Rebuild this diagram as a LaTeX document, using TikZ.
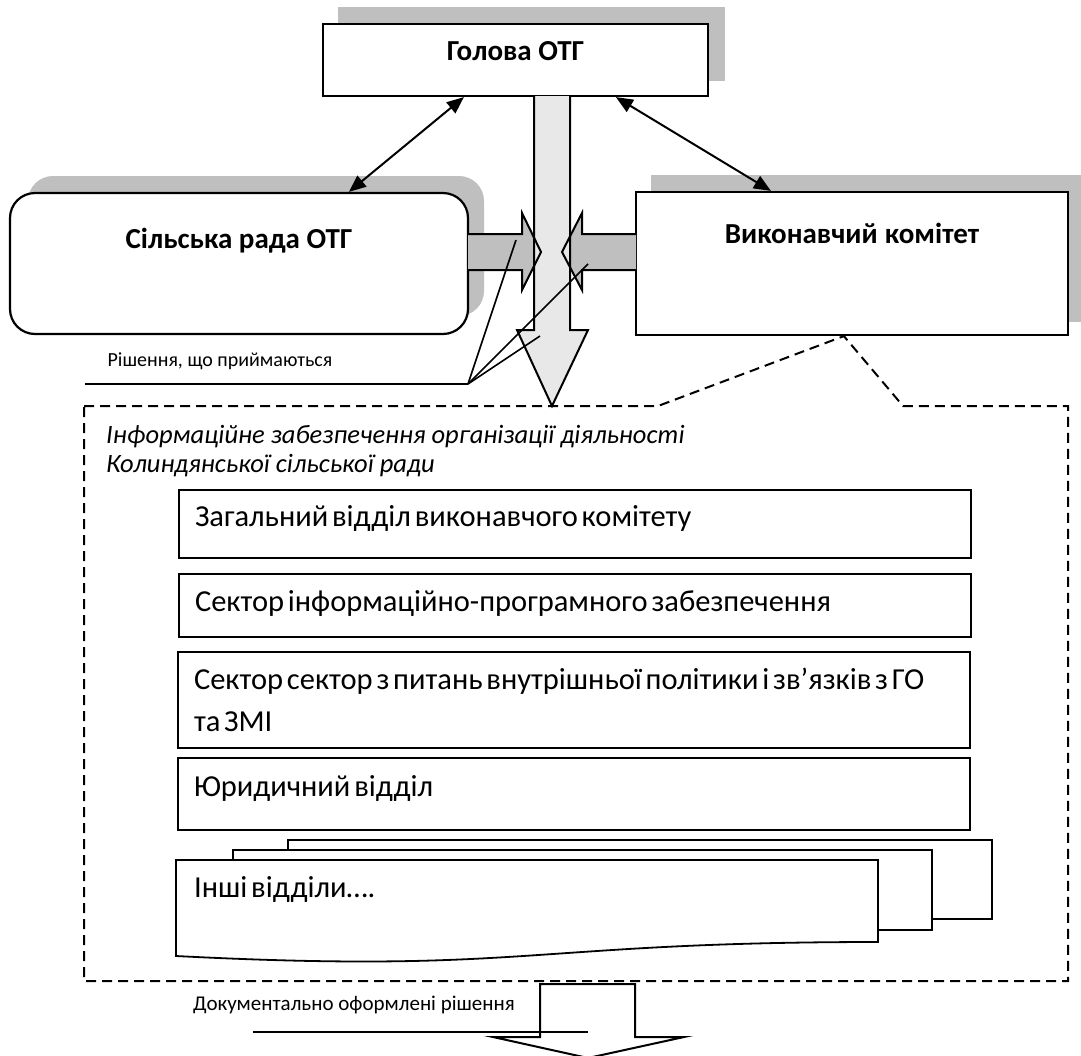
\documentclass[tikz,border=0pt]{standalone}
\usepackage{fontspec}
\setmainfont{Carlito}
\newfontfamily\unitfont{Carlito}[WordSpace=0.55]
\usetikzlibrary{arrows.meta,calc,positioning}

\definecolor{shadowgray}{HTML}{BFBFBF}
\definecolor{flowgray}{HTML}{E8E8E8}

\begin{document}
\begin{tikzpicture}[x=1pt, y=-1pt,
    boxshadow/.style={fill=shadowgray, draw=none},
    mainbox/.style={draw, line width=2.2pt, fill=white, inner sep=0pt},
    headtext/.style={font=\bfseries\fontsize{29}{33}\selectfont, inner sep=0pt},
    unitbox/.style={draw, line width=2.2pt, fill=white, text width=760pt, inner xsep=16pt, inner ysep=0pt, align=flush left, font=\unitfont\fontsize{30.5}{42}\selectfont},
    oneline/.style={text height=22pt, text depth=18pt},
    docpage/.style={draw, line width=1.8pt, fill=white},
    linkarrow/.style={line width=2pt, {Triangle[length=17pt,width=14pt]}-{Triangle[length=17pt,width=14pt]}},
    flowarrow/.style={line width=2pt, line join=miter},
    callout/.style={line width=1.6pt},
    notetext/.style={font=\fontsize{20}{24}\selectfont, inner sep=0pt},
    infotext/.style={font=\itshape\fontsize{26.5}{29}\selectfont, align=left, inner sep=0pt}
]
    \useasboundingbox (0,0) rectangle (1081,1055);

    % Shadows
    \fill[boxshadow] (338,7) rectangle (725,81);
    \fill[boxshadow, rounded corners=25pt] (28,176) rectangle (484,316);
    \fill[boxshadow] (651,175) rectangle (1095,322);

    % Top level boxes
    \node[mainbox, minimum width=385pt, minimum height=72pt] (head) at (515.5,60) {};
    \node[mainbox, rounded corners=25pt, minimum width=458pt, minimum height=141pt] (council) at (239,263.5) {};
    \node[mainbox, minimum width=432pt, minimum height=143pt] (exec) at (852,263.5) {};

    \node[headtext, below=18pt of head.north] (headlbl) {Голова ОТГ};
    \node[headtext, below=36pt of council.north] (councillbl) {Сільська рада ОТГ};
    \node[headtext, below=32pt of exec.north] (execlbl) {Виконавчий\hspace{0.25em}комітет};

    % Links to the head
    \draw[linkarrow] ([xshift=340pt]council.north west) -- ([xshift=142pt]head.south west);
    \draw[linkarrow] ([xshift=136pt]exec.north west) -- ([xshift=294pt]head.south west);

    % Decisions flow (fill first, outlines after)
    \fill[shadowgray] (468,234) -- (522,234) -- (522,213) -- (541,252) -- (522,290) -- (522,270) -- (468,270) -- cycle;
    \fill[shadowgray] (636,234) -- (582,234) -- (582,213) -- (562,252) -- (582,290) -- (582,270) -- (636,270) -- cycle;
    \fill[flowgray] (534,96) -- (534,330) -- (517,330) -- (552,406) -- (588,330) -- (570,330) -- (570,96) -- cycle;
    \draw[flowarrow] (468,234) -- (522,234) -- (522,213) -- (541,252) -- (522,290) -- (522,270) -- (468,270);
    \draw[flowarrow] (636,234) -- (582,234) -- (582,213) -- (562,252) -- (582,290) -- (582,270) -- (636,270);
    \draw[flowarrow] (534,96) -- (534,330) -- (517,330) -- (552,406) -- (588,330) -- (570,330) -- (570,96);

    % Callout region
    \draw[line width=2pt, dash pattern=on 10pt off 6pt] (84,406) -- (658,406) -- ([xshift=209pt]exec.south west) -- (903,406) -- (1068,406) -- (1068,981) -- (84,981) -- cycle;

    \node[infotext, anchor=north west] (infolbl) at (106,425)
        {Інформаційне забезпечення організації діяльності\\Колиндянської сільської ради};

    % Units
    \node[unitbox, oneline, minimum height=68pt] (general) at (575,524) {Загальний відділ виконавчого комітету};
    \node[unitbox, oneline, text depth=10pt, minimum height=63pt] (itsector) at (575,605.5) {Сектор інформаційно-програмного забезпечення};
    \node[unitbox, minimum height=96pt] (polsector) at (574,700) {Сектор сектор з питань внутрішньої політики і зв’язків з ГО\\та ЗМІ};
    \node[unitbox, oneline, minimum height=72pt] (legal) at (574,794) {Юридичний відділ};

    % Other units (stacked pages)
    \filldraw[docpage] (288,840) rectangle (992,919);
    \filldraw[docpage] (233,850) rectangle (932,930);
    \filldraw[docpage] (176,860) -- (878,860) -- (878,942) .. controls (527,942) and (527,974) .. (176,956) -- cycle;
    \node[font=\unitfont\fontsize{30.5}{36}\selectfont, anchor=west, inner xsep=18pt] (others) at (176,889) {Інші відділи….};

    % Output arrow
    \draw[flowarrow, fill=white] (540,984) -- (540,1037) -- (493,1037) -- (588,1058) -- (684,1037) -- (635,1037) -- (635,984) -- cycle;

    % Callouts
    \node[notetext] (decisionslbl) at (220,361) {Рішення, що приймаються};
    \coordinate (decline) at (85,384);
    \coordinate (decisions) at (468,384);
    \coordinate (councilflow) at (516,240);
    \coordinate (execflow) at (588,264);
    \coordinate (headflow) at (540,336);
    \draw[callout] (decline) -- (decisions);
    \draw[callout] (decisions) -- (councilflow);
    \draw[callout] (decisions) -- (execflow);
    \draw[callout] (decisions) -- (headflow);

    \node[notetext, font=\fontsize{21}{25}\selectfont] (outputlbl) at (354,1005) {Документально оформлені рішення};
    \coordinate (docline) at (253,1032);
    \coordinate (docflow) at (588,1032);
    \draw[callout] (docline) -- (docflow);

\end{tikzpicture}
\end{document}
